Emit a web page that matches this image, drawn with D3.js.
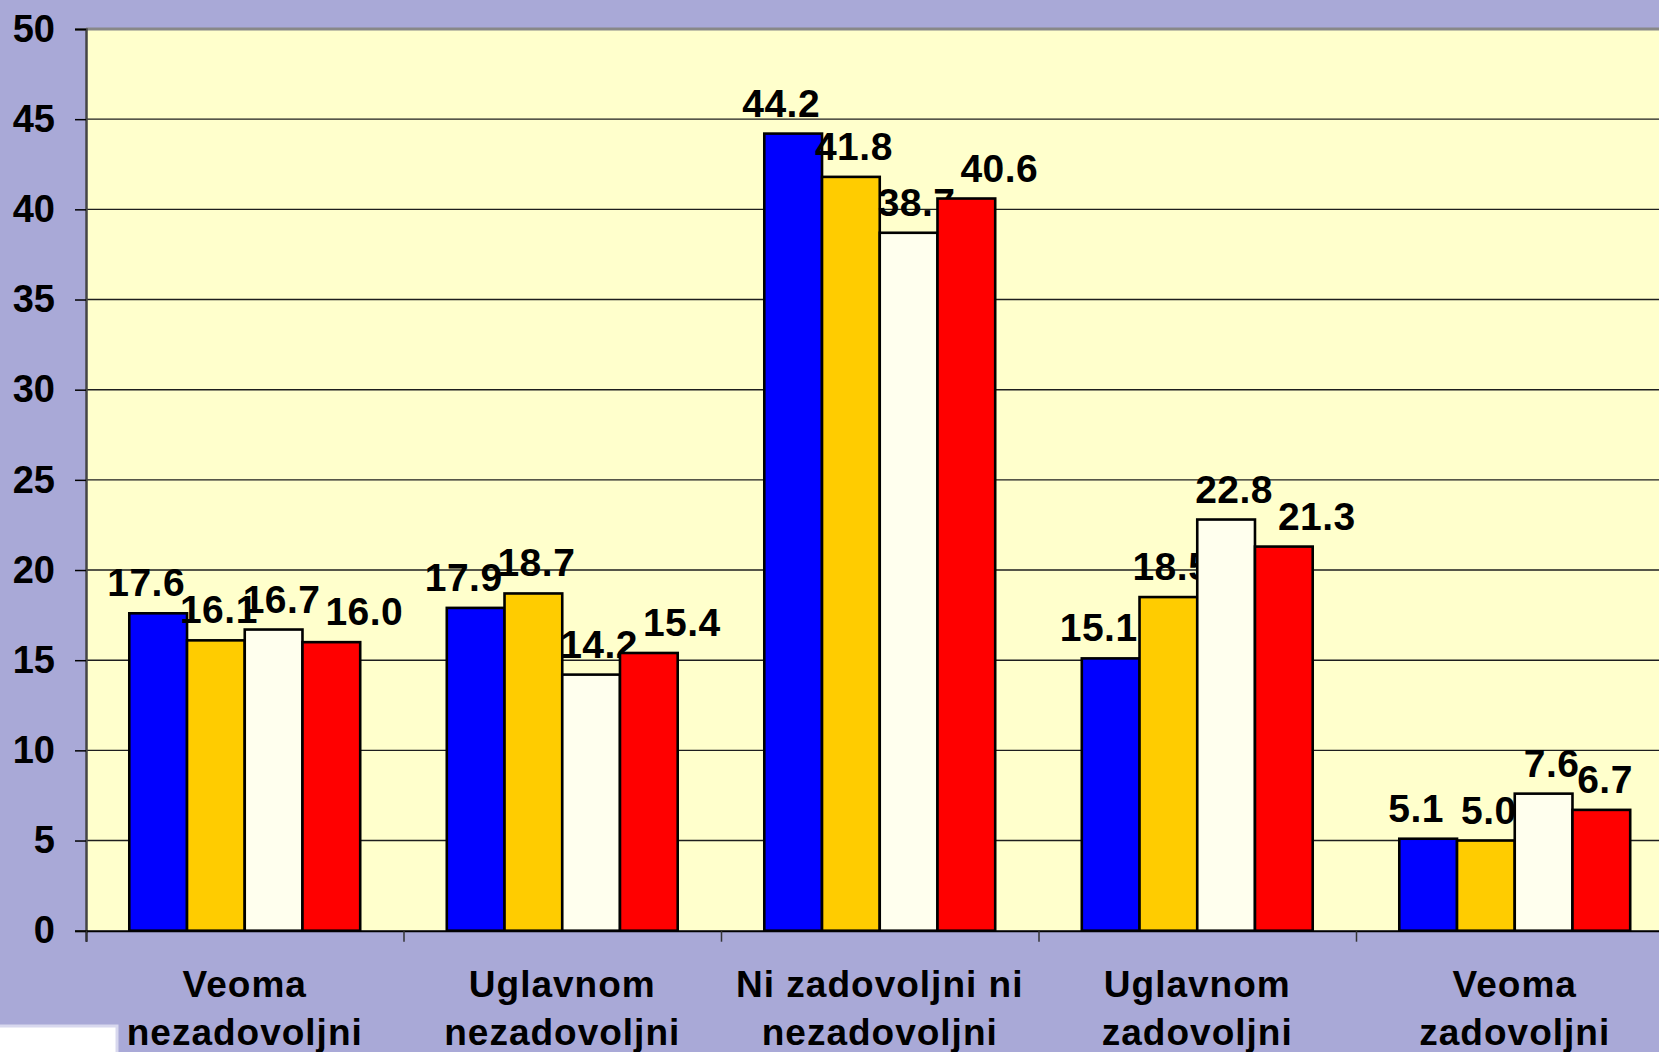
<!DOCTYPE html>
<html>
<head>
<meta charset="utf-8">
<script src="https://cdn.jsdelivr.net/npm/d3@7"></script>
<style>
  html, body { margin: 0; padding: 0; background: #A9A9D7; overflow: hidden; }
  text { font-family: "Liberation Sans", Arial, sans-serif; font-weight: bold; fill: #000; }
</style>
</head>
<body>
<div id="chart"></div>
<script>
// chart data
const categories = ["Veoma nezadovoljni", "Uglavnom nezadovoljni", "Ni zadovoljni ni nezadovoljni", "Uglavnom zadovoljni", "Veoma zadovoljni"];
const seriesNames = ["s1", "s2", "s3", "s4"];
const s1Values = [17.6, 17.9, 44.2, 15.1, 5.1];
const s2Values = [16.1, 18.7, 41.8, 18.5, 5.0];
const s3Values = [16.7, 14.2, 38.7, 22.8, 7.6];
const s4Values = [16.0, 15.4, 40.6, 21.3, 6.7];
const yTicks = [0, 5, 10, 15, 20, 25, 30, 35, 40, 45, 50];

const seriesValues = [s1Values, s2Values, s3Values, s4Values];
const colors = ["#0000FF", "#FFCC00", "#FFFFEE", "#FF0000"];
// labels sit a little off centre, differently per series
const labelShift = [-12, 3, 8, 33];

const W = 1659, H = 1052;
const padLeft = 86, padTop = 29, baseY = 930.7;
const plotRight = padLeft + 5 * 317.5;   // plot runs past the window edge

const svg = d3.select("#chart").append("svg")
    .attr("width", W)
    .attr("height", H);

// plot area
svg.append("rect")
    .attr("x", padLeft).attr("y", padTop)
    .attr("width", plotRight - padLeft).attr("height", baseY - padTop)
    .attr("fill", "#FFFFCC");

const yScale = d3.scaleLinear().domain([0, 50]).range([baseY, padTop]);

const x0 = d3.scaleBand().domain(categories).range([padLeft, plotRight]).padding(0);
const step = x0.bandwidth();
const barW = step / 5.5;
const x1 = d3.scaleBand().domain(seriesNames)
    .range([barW * 0.75, step - barW * 0.75]).padding(0);

// gridlines
svg.append("g")
    .selectAll("line")
    .data(yTicks.filter(t => t > 0 && t < 50))
    .enter()
    .append("line")
    .attr("x1", padLeft).attr("x2", plotRight)
    .attr("y1", d => yScale(d)).attr("y2", d => yScale(d))
    .attr("stroke", "#1e1e1e")
    .attr("stroke-width", 1.4);

// top border
svg.append("line")
    .attr("x1", padLeft).attr("x2", plotRight)
    .attr("y1", yScale(50)).attr("y2", yScale(50))
    .attr("stroke", "#888888").attr("stroke-width", 3);

// bars + value labels, series by series (next bars cover earlier labels)
seriesNames.forEach((name, si) => {
    const g = svg.append("g");
    const vals = seriesValues[si];

    g.selectAll("rect")
        .data(categories)
        .enter()
        .append("rect")
        .attr("x", (c) => x0(c) + x1(name))
        .attr("y", (c, i) => yScale(vals[i]))
        .attr("width", x1.bandwidth())
        .attr("height", (c, i) => yScale(0) - yScale(vals[i]))
        .attr("fill", colors[si])
        .attr("stroke", "#000")
        .attr("stroke-width", 2.6);

    g.selectAll("text")
        .data(categories)
        .enter()
        .append("text")
        .attr("x", (c) => Math.min(x0(c) + x1(name) + x1.bandwidth() / 2 + labelShift[si], W - 54))
        .attr("y", (c, i) => yScale(vals[i]) - 17)
        .attr("text-anchor", "middle")
        .attr("font-size", 39)
        .attr("letter-spacing", 0.5)
        .text((c, i) => vals[i].toFixed(1));
});

// Y axis
const yAxis = d3.axisLeft(yScale)
    .tickValues(yTicks)
    .tickSize(11)
    .tickPadding(20)
    .tickFormat(d3.format("d"));

const yAxisG = svg.append("g")
    .attr("transform", `translate(${padLeft}, 0)`)
    .call(yAxis);
yAxisG.select(".domain").attr("stroke", "#444").attr("stroke-width", 2.5);
yAxisG.selectAll(".tick line").attr("stroke", "#000").attr("stroke-width", 1.5);
yAxisG.selectAll(".tick text")
    .attr("font-size", 38)
    .attr("font-family", "Liberation Sans, Arial, sans-serif")
    .attr("font-weight", "bold")
    .attr("fill", "#000");

// X axis with ticks between categories
const xEdge = d3.scaleLinear().domain([0, categories.length]).range([padLeft, plotRight]);
const xAxis = d3.axisBottom(xEdge)
    .tickValues(d3.range(categories.length + 1))
    .tickSize(11)
    .tickFormat("");

const xAxisG = svg.append("g")
    .attr("transform", `translate(0, ${baseY})`)
    .call(xAxis);
xAxisG.select(".domain").attr("stroke", "#000").attr("stroke-width", 2);
xAxisG.selectAll(".tick line").attr("stroke", "#333").attr("stroke-width", 1.5);

// category labels (last word on second line)
const catLabels = svg.append("g")
    .selectAll("text")
    .data(categories)
    .enter()
    .append("text")
    .attr("x", (c) => x0(c) + step / 2)
    .attr("y", 997)
    .attr("text-anchor", "middle")
    .attr("font-size", 37)
    .attr("letter-spacing", 1);

catLabels.append("tspan")
    .attr("x", (c) => x0(c) + step / 2)
    .text((c) => c.split(" ").slice(0, -1).join(" "));
catLabels.append("tspan")
    .attr("x", (c) => x0(c) + step / 2)
    .attr("dy", 48)
    .text((c) => c.split(" ").slice(-1)[0]);

// white patch in the bottom-left corner
svg.append("rect")
    .attr("x", -2).attr("y", 1026)
    .attr("width", 119).attr("height", 40)
    .attr("fill", "#FFFFFF")
    .attr("stroke", "#D8D8EE")
    .attr("stroke-width", 3);
</script>
</body>
</html>
